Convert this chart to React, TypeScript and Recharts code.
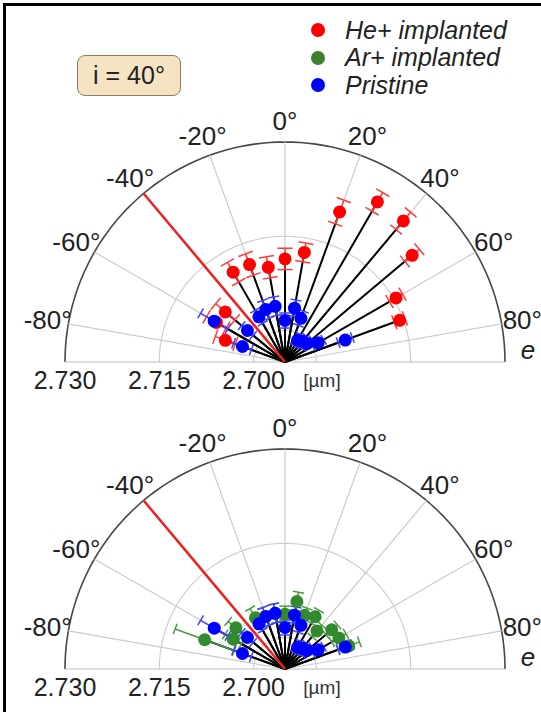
import React from "react";
import {
  ScatterChart,
  Scatter,
  XAxis,
  YAxis,
  ReferenceLine,
  ReferenceDot,
} from "recharts";

// radial axis: value at the centre of the half circle and width up to the outer ring (µm)
const R0 = 2.695;
const SPAN = 0.035;

const ringValues = [2.7, 2.715, 2.73];
const ringLabels = ["2.700", "2.715", "2.730"];
const gridAngles = [-80, -60, -40, -20, 0, 20, 40, 60, 80];
const incidence = -40;

// measurement directions (deg)
const angles = [-70, -60, -50, -30, -20, -10, 0, 10, 20, 30, 40, 50, 60, 70];

const heValues = [
  2.7051, 2.7076, 2.7074, 2.7115, 2.7115, 2.7103, 2.7114, 2.7127, 2.7204,
  2.7244, 2.7243, 2.7214, 2.7154, 2.7144,
];
const heErrors = [
  0.0017, 0.0018, 0.002, 0.0018, 0.0018, 0.0017, 0.0017, 0.0015, 0.002,
  0.0017, 0.0018, 0.0015, 0.0012, 0.0009,
];

const arValues = [
  2.7086, 2.7045, 2.7052, 2.7044, 2.7039, 2.704, 2.7037, 2.7059, 2.7041,
  2.7046, 2.7029, 2.7047, 2.7049, 2.7058,
];
const arErrors = [
  0.005, 0.0015, 0.0016, 0.0017, 0.0015, 0.0015, 0.0013, 0.0015, 0.0012,
  0.0012, 0.0012, 0.0012, 0.0013, 0.0018,
];

const pristineValues = [
  2.7022, 2.708, 2.7028, 2.7033, 2.7039, 2.704, 2.7016, 2.7037, 2.7024,
  2.699, 2.6993, 2.6996, 2.7011, 2.7052,
];
const pristineErrors = [
  0.0015, 0.0025, 0.0012, 0.0012, 0.0015, 0.0015, 0.0012, 0.0013, 0.0012,
  0.001, 0.001, 0.001, 0.001, 0.0012,
];

const FONT = '"Liberation Sans", Arial, sans-serif';

const toXY = (deg: number, v: number) => {
  const rho = v - R0;
  const t = (deg * Math.PI) / 180;
  return { x: rho * Math.sin(t), y: rho * Math.cos(t) };
};

const arc = (v: number) => {
  const pts = [];
  for (let a = -90; a <= 90; a += 2) pts.push(toXY(a, v));
  return pts;
};

type Series = {
  name: string;
  values: number[];
  errors: number[];
  color: string;
  barColor: string;
  cap: number;
};

const heSeries: Series = {
  name: "he",
  values: heValues,
  errors: heErrors,
  color: "#ff0000",
  barColor: "#ff3b3b",
  cap: 0.0012,
};
const arSeries: Series = {
  name: "ar",
  values: arValues,
  errors: arErrors,
  color: "#338a2e",
  barColor: "#4c9a44",
  cap: 0.0009,
};
const pristineSeries: Series = {
  name: "pr",
  values: pristineValues,
  errors: pristineErrors,
  color: "#0000ff",
  barColor: "#4040ff",
  cap: 0.0009,
};

const noShape = () => <g />;
const dot = (color: string) => (p: any) =>
  <circle cx={p.cx} cy={p.cy} r={6.5} fill={color} />;

// error bar along the radius, with caps across it
const errorSegments = (s: Series) =>
  angles.flatMap((a, i) => {
    const t = (a * Math.PI) / 180;
    const lo = toXY(a, s.values[i] - s.errors[i]);
    const hi = toXY(a, s.values[i] + s.errors[i]);
    const cx = s.cap * Math.cos(t);
    const cy = -s.cap * Math.sin(t);
    return [
      [lo, hi],
      [
        { x: lo.x - cx, y: lo.y - cy },
        { x: lo.x + cx, y: lo.y + cy },
      ],
      [
        { x: hi.x - cx, y: hi.y - cy },
        { x: hi.x + cx, y: hi.y + cy },
      ],
    ];
  });

function Panel({ top, series }: { top: number; series: Series[] }) {
  const labelR = R0 + 0.03834;
  return (
    <div style={{ position: "absolute", left: 0, top }}>
      <ScatterChart
        width={541}
        height={400}
        margin={{ top: 142, right: 36, bottom: 38, left: 65 }}
      >
        <XAxis type="number" dataKey="x" domain={[-SPAN, SPAN]} hide />
        <YAxis type="number" dataKey="y" domain={[0, SPAN]} hide />
        {ringValues.map((v, i) => (
          <Scatter
            key={`ring${i}`}
            data={arc(v)}
            line={{
              stroke: i === 2 ? "#474747" : "#cfcfcf",
              strokeWidth: i === 2 ? 1.6 : 1.2,
            }}
            shape={noShape}
            legendType="none"
            isAnimationActive={false}
            zIndex={-100}
          />
        ))}
        {gridAngles.map((a) => (
          <ReferenceLine
            key={`grid${a}`}
            segment={[{ x: 0, y: 0 }, toXY(a, R0 + SPAN)]}
            stroke="#cccccc"
            strokeWidth={1.2}
            ifOverflow="visible"
          />
        ))}
        <ReferenceLine y={0} stroke="#bdbdbd" strokeWidth={1.2} ifOverflow="visible" />
        {series.flatMap((s) =>
          angles.map((a, i) => (
            <ReferenceLine
              key={`spoke-${s.name}-${a}`}
              segment={[{ x: 0, y: 0 }, toXY(a, s.values[i])]}
              stroke="#000000"
              strokeWidth={2}
              ifOverflow="visible"
            />
          ))
        )}
        {series.flatMap((s) =>
          errorSegments(s).map((seg, k) => (
            <ReferenceLine
              key={`err-${s.name}-${k}`}
              segment={seg}
              stroke={s.barColor}
              strokeWidth={1.5}
              ifOverflow="visible"
            />
          ))
        )}
        <ReferenceLine
          segment={[{ x: 0, y: 0 }, toXY(incidence, R0 + SPAN)]}
          stroke="#ef1f1f"
          strokeWidth={2.5}
          ifOverflow="visible"
        />
        {series.map((s) => (
          <Scatter
            key={`pts-${s.name}`}
            data={angles.map((a, i) => toXY(a, s.values[i]))}
            shape={dot(s.color)}
            isAnimationActive={false}
          />
        ))}
        {gridAngles.map((a) => {
          const p = toXY(a, labelR);
          return (
            <ReferenceDot
              key={`alab${a}`}
              x={p.x}
              y={p.y}
              r={1}
              fill="none"
              stroke="none"
              ifOverflow="visible"
              label={{
                value: `${a}°`,
                position: "center",
                fontSize: 26,
                fill: "#222",
                fontFamily: FONT,
              }}
            />
          );
        })}
        {ringValues.map((v, i) => (
          <ReferenceDot
            key={`rlab${i}`}
            x={-(v - R0)}
            y={-0.0029}
            r={1}
            fill="none"
            stroke="none"
            ifOverflow="visible"
            label={{
              value: ringLabels[i],
              position: "center",
              fontSize: 25,
              fill: "#222",
              fontFamily: FONT,
            }}
          />
        ))}
        <ReferenceDot
          x={0.00589}
          y={-0.0029}
          r={1}
          fill="none"
          stroke="none"
          ifOverflow="visible"
          label={{
            value: "[µm]",
            position: "center",
            fontSize: 19,
            fill: "#333",
            fontFamily: FONT,
          }}
        />
        <ReferenceDot
          x={0.03866}
          y={0.0019}
          r={1}
          fill="none"
          stroke="none"
          ifOverflow="visible"
          label={{
            value: "e",
            position: "center",
            fontSize: 26,
            fill: "#222",
            fontStyle: "italic",
            fontFamily: FONT,
          }}
        />
      </ScatterChart>
    </div>
  );
}

const legendItems = [
  { label: "He+ implanted", color: "#ff0000" },
  { label: "Ar+ implanted", color: "#3d8030" },
  { label: "Pristine", color: "#0000ff" },
];

export default function App() {
  return (
    <div
      style={{
        position: "absolute",
        left: 0,
        top: 0,
        width: 541,
        height: 712,
        background: "#fff",
        overflow: "hidden",
        fontFamily: FONT,
      }}
    >
      <Panel top={0} series={[heSeries, pristineSeries]} />
      <Panel top={307} series={[arSeries, pristineSeries]} />
      <div
        style={{
          position: "absolute",
          left: 3,
          top: 3,
          width: 541,
          height: 712,
          borderTop: "3px solid #000",
          borderLeft: "3px solid #000",
        }}
      />
      <div
        style={{
          position: "absolute",
          left: 77,
          top: 55,
          width: 104,
          height: 41,
          boxSizing: "border-box",
          border: "1.5px solid #8c7c62",
          borderRadius: 8,
          background: "#f5e3c3",
          fontSize: 25,
          color: "#222",
          display: "flex",
          alignItems: "center",
          justifyContent: "center",
        }}
      >
        i = 40°
      </div>
      {legendItems.map((it, i) => (
        <div
          key={it.label}
          style={{
            position: "absolute",
            left: 311,
            top: 16 + i * 27.5,
            height: 28,
            display: "flex",
            alignItems: "center",
          }}
        >
          <span
            style={{
              width: 14,
              height: 14,
              borderRadius: 7,
              background: it.color,
              display: "inline-block",
            }}
          />
          <span
            style={{
              marginLeft: 20,
              fontSize: 25,
              fontStyle: "italic",
              color: "#222",
            }}
          >
            {it.label}
          </span>
        </div>
      ))}
    </div>
  );
}
